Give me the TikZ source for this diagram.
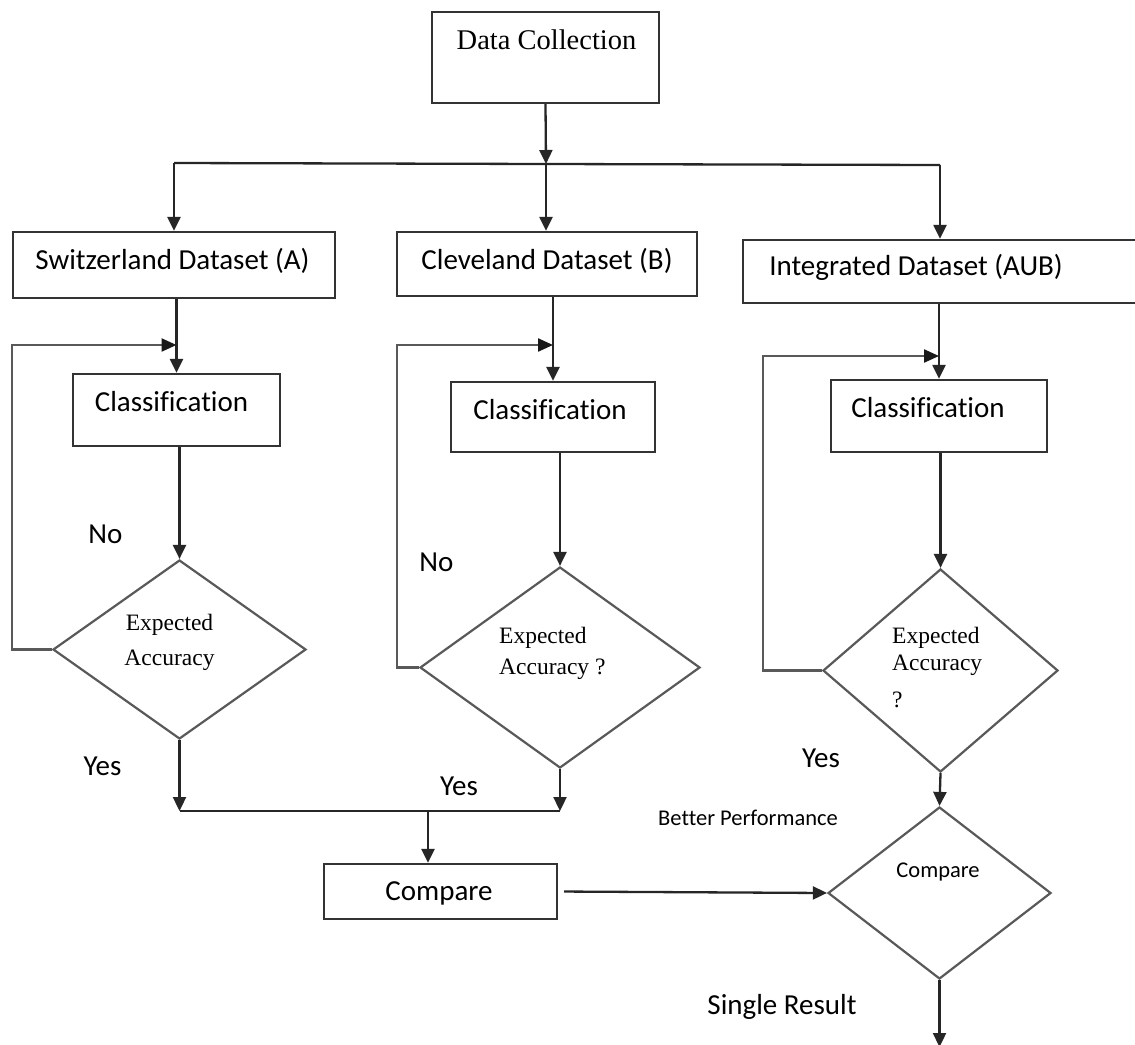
\documentclass[tikz,border=0pt]{standalone}
\usepackage{fontspec}
\setmainfont{Liberation Serif}
\newfontfamily\calfont[Ligatures=NoCommon]{Carlito}
\usetikzlibrary{shapes.geometric,arrows.meta}
\begin{document}
\begin{tikzpicture}[x=1pt,y=-1pt,
  box/.style={draw=black!80, line width=2.3pt, rectangle, inner sep=0pt},
  dia/.style={draw=black!65, line width=2.2pt, diamond, inner sep=0pt},
  ln/.style={draw=black!85, line width=2.3pt},
  arr/.style={ln, -{Triangle[length=14pt,width=13pt]}},
  loopln/.style={draw=black!65, line width=2.3pt, -{Triangle[length=15pt,width=13pt,color=black!90]}},
  sans/.style={font=\calfont\fontsize{29}{34}\selectfont, inner sep=0pt},
  small/.style={font=\calfont\fontsize{22.5}{27}\selectfont, inner sep=0pt},
  titl/.style={font=\fontsize{28.5}{34}\selectfont, inner sep=0pt},
  serif/.style={font=\fontsize{23.5}{31}\selectfont, inner sep=0pt},
]
\useasboundingbox (0,0) rectangle (1135,1044);
\clip (0,0) rectangle (1135,1044);
\fill[white] (0,0) rectangle (1135,1044);

% shapes
\node[box, minimum width=227pt, minimum height=91pt] (dc) at (545.5,57.5) {};
\node[box, minimum width=322pt, minimum height=66pt] (sA) at (174,265) {};
\node[box, minimum width=300pt, minimum height=64pt] (sB) at (547,264) {};
\node[box, minimum width=420pt, minimum height=63pt] (sC) at (953,271.5) {};
\node[box, minimum width=207pt, minimum height=72pt] (cA) at (176.5,410) {};
\node[box, minimum width=204pt, minimum height=70pt] (cB) at (553,417) {};
\node[box, minimum width=216pt, minimum height=72pt] (cC) at (939,416) {};
\node[dia, minimum width=253pt, minimum height=179pt] (dA) at (179.5,649.5) {};
\node[dia, minimum width=280pt, minimum height=201pt] (dB) at (560,667.5) {};
\node[dia, minimum width=235pt, minimum height=203pt] (dC) at (940.5,670.5) {};
\node[box, minimum width=233pt, minimum height=55pt] (cmp) at (440.5,891.5) {};
\node[dia, minimum width=223pt, minimum height=172pt] (dD) at (939.5,893) {};

% texts
\node[titl, anchor=base] (tdc) at (546.5,49) {Data Collection};
\node[sans, anchor=base] (tsA) at (172.5,269) {Switzerland Dataset (A)};
\node[sans, anchor=base] (tsB) at (547,269) {Cleveland Dataset (B)};
\node[sans, anchor=base] (tsC) at (916,275) {Integrated Dataset (AUB)};
\node[sans, anchor=base] (tcA) at (171.5,411) {Classification};
\node[sans, anchor=base] (tcB) at (550,419) {Classification};
\node[sans, anchor=base] (tcC) at (928,417) {Classification};
\node[serif, anchor=base, align=center] (tdA) at (169.5,665) {Expected\\[4pt]Accuracy};
\node[serif, anchor=base west, align=left] (tdB) at (499,674) {Expected\\Accuracy ?};
\node[serif, anchor=base west, align=left, font=\fontsize{23.5}{27}\selectfont] (tdC) at (892,707) {Expected\\Accuracy\\[10pt]?};
\node[sans, anchor=base] (tcmp) at (439,900) {Compare};
\node[small, anchor=base] (tdD) at (938,877) {Compare};
\node[small, anchor=base] (tbp) at (748,825) {Better Performance};
\node[sans, anchor=base] (tsr) at (782,1014) {Single Result};
\node[sans, anchor=base] (noA) at (105.5,543) {No};
\node[sans, anchor=base] (noB) at (436.5,571) {No};
\node[sans, anchor=base] (yesA) at (102.5,775) {Yes};
\node[sans, anchor=base] (yesB) at (459,795) {Yes};
\node[sans, anchor=base] (yesC) at (821,767) {Yes};

% connectors
\coordinate (j) at (546,164);
\coordinate (jA) at (174,163);
\coordinate (jC) at (940,165);
\draw[ln] (jA) -- (j) -- (jC);
\draw[arr] (dc.south) -- (j);
\draw[arr] (jA) -- (jA |- sA.north);
\draw[arr] (j) -- (j |- sB.north);
\draw[arr] (jC) -- (jC |- sC.north);

\draw[arr] (cA.north |- sA.south) -- (cA.north);
\draw[arr] (cB.north |- sB.south) -- (cB.north);
\draw[arr] (cC.north |- sC.south) -- (cC.north);
\draw[arr] (dA.north |- cA.south) -- (dA.north);
\draw[arr] (dB.north |- cB.south) -- (dB.north);
\draw[arr] (dC.north |- cC.south) -- (dC.north);

\coordinate (fA) at (12,345);
\coordinate (fB) at (397,345);
\coordinate (fC) at (763,356);
\draw[loopln] (dA.west) -| (fA) -- (fA -| cA.north);
\draw[loopln] (dB.west) -| (fB) -- (fB -| cB.north);
\draw[loopln] (dC.west) -| (fC) -- (fC -| cC.north);

\coordinate (m) at (428,811);
\draw[ln] (dA.south |- m) -- (dB.south |- m);
\draw[arr] (dA.south) -- (dA.south |- m);
\draw[arr] (dB.south) -- (dB.south |- m);
\draw[arr] (m) -- (m |- cmp.north);
\draw[arr, shorten <=6pt] (cmp.east) -- (dD.west);
\draw[arr] (dC.south) -- (dD.north);
\coordinate (fin) at (939.5,1047);
\draw[arr] (dD.south) -- (fin);
\end{tikzpicture}
\end{document}
